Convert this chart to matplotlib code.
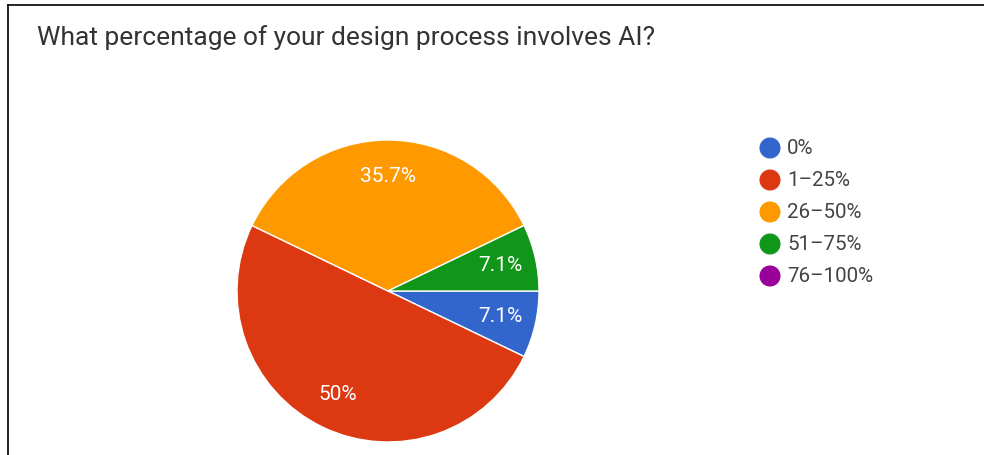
import matplotlib.pyplot as plt
from matplotlib.lines import Line2D

plt.rcParams['font.family'] = ['Roboto', 'DejaVu Sans']

title = 'What percentage of your design process involves AI?'
categories = ['0%', '1–25%', '26–50%', '51–75%', '76–100%']
counts = [1, 7, 5, 1, 0]
colors = ['#3366cc', '#dc3912', '#ff9900', '#109618', '#990099']

fig = plt.figure(figsize=(9.84, 4.55), dpi=100)

# frame like the screenshot (left + top edges)
fig.add_artist(Line2D([8 / 984, 8 / 984], [0, 1 - 5 / 455], color='black', lw=1.2))
fig.add_artist(Line2D([8 / 984, 1], [1 - 5 / 455, 1 - 5 / 455], color='black', lw=1.2))

fig.text(37 / 984, 1 - 38 / 455, title, fontsize=19, color='#333333', va='center', ha='left')

# pie, only non-zero slices get drawn
vals = [c for c in counts if c > 0]
cols = [col for c, col in zip(counts, colors) if c > 0]
ax = fig.add_axes([237 / 984, 13 / 455, 302 / 984, 302 / 455])
wedges, texts, autotexts = ax.pie(vals, colors=cols, startangle=0, counterclock=False,
                                  autopct=lambda p: f'{p:.1f}%'.replace('.0%', '%'),
                                  pctdistance=0.76,
                                  wedgeprops=dict(edgecolor='white', linewidth=1))
for t in autotexts:
    t.set_color('white')
    t.set_fontsize(15)
ax.set_xlim(-1, 1)
ax.set_ylim(-1, 1)
ax.set_aspect('equal')

# legend
lax = fig.add_axes([755 / 984, 1 - 292 / 455, 220 / 984, 160 / 455])
lax.set_xlim(0, 220)
lax.set_ylim(len(categories) - 0.5, -0.5)
lax.axis('off')
for i, (cat, col) in enumerate(zip(categories, colors)):
    lax.scatter([15], [i], s=230, color=col, edgecolors='none')
    lax.text(32, i, cat, fontsize=14.8, color='#444444', va='center', ha='left')

fig.savefig('out.png', dpi=100)
